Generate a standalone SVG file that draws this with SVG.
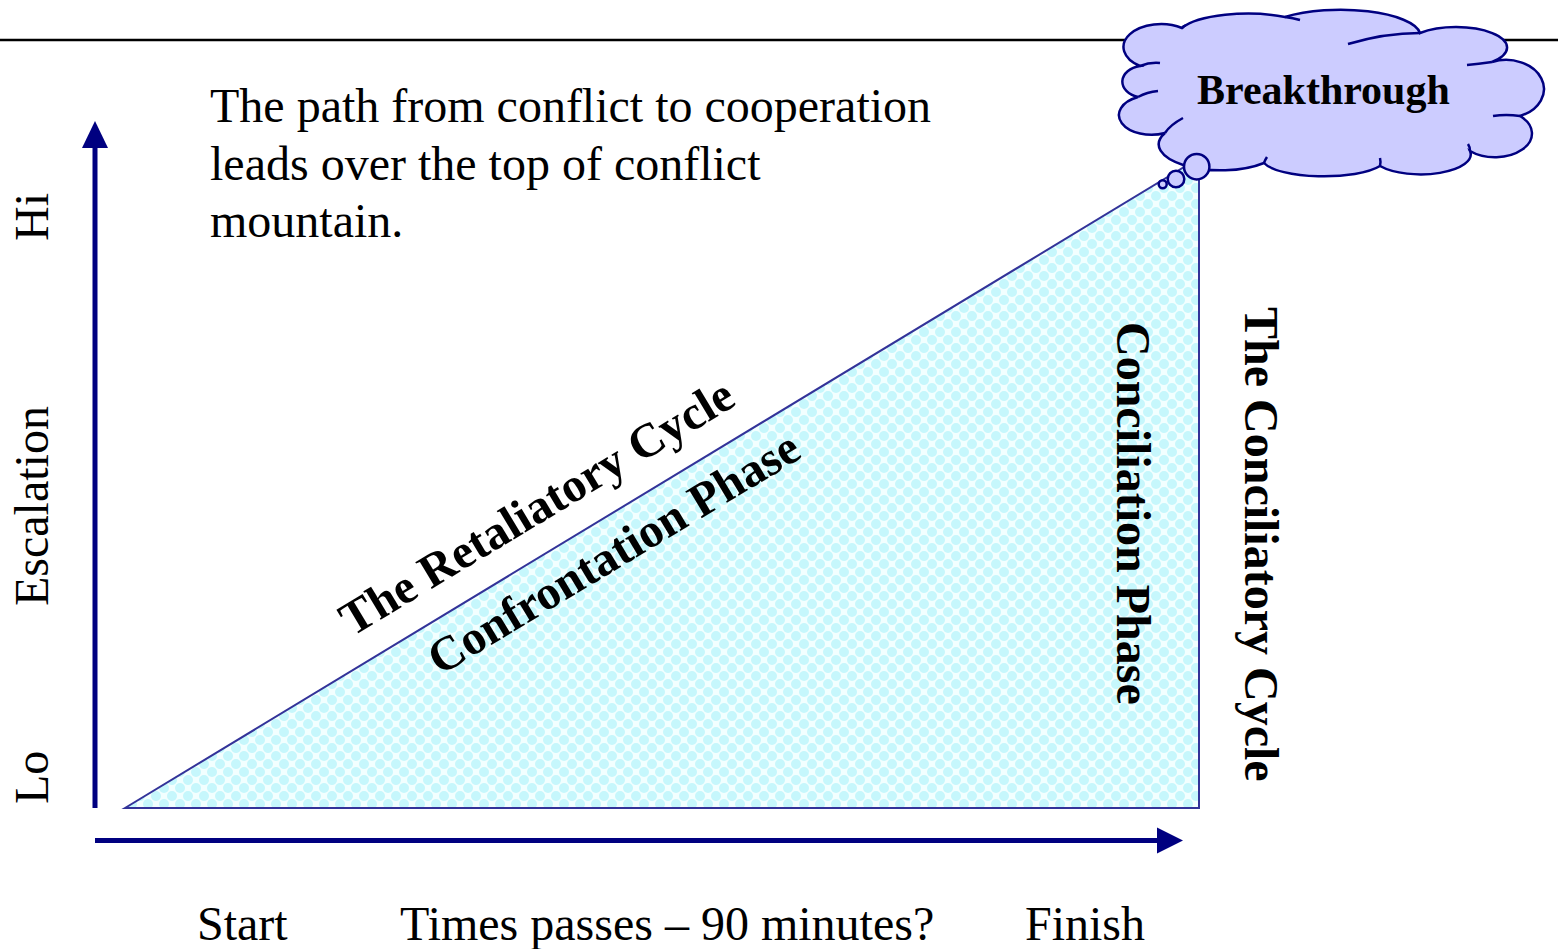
<svg xmlns="http://www.w3.org/2000/svg" width="1558" height="949" viewBox="0 0 1558 949">
<style>
.txt{font-family:"Liberation Serif","Times New Roman",serif;font-size:48px;fill:#000}
.bold{font-family:"Liberation Serif","Times New Roman",serif;font-size:48px;font-weight:bold;fill:#000}
.axis{stroke:#000080;stroke-width:5;fill:none}
.head{fill:#000080}
.cloud{fill:#ccccff;stroke:#000080;stroke-width:2.5}
.crease{fill:none;stroke:#000080;stroke-width:2.5}
</style>
<defs>
<pattern id="dots" patternUnits="userSpaceOnUse" width="16" height="16">
<rect width="16" height="16" fill="#f2ffff"/>
<circle cx="4" cy="4" r="5" fill="#c6f7fc"/>
<circle cx="12" cy="12" r="5" fill="#c6f7fc"/>
<circle cx="20" cy="4" r="5" fill="#c6f7fc"/>
<circle cx="4" cy="20" r="5" fill="#c6f7fc"/>
<circle cx="-4" cy="12" r="5" fill="#c6f7fc"/>
<circle cx="12" cy="-4" r="5" fill="#c6f7fc"/>
</pattern>
</defs>
<rect width="1558" height="949" fill="#ffffff"/>
<line x1="0" y1="40" x2="1558" y2="40" stroke="#000" stroke-width="2.5"/>

<g id="mountain">
<polygon points="125,808 1199,158 1199,808" fill="url(#dots)" stroke="#333399" stroke-width="2"/>
</g>

<g id="connectors">
<line class="axis" x1="95" y1="808" x2="95" y2="146"/>
<polygon class="head" points="95,121 82,148 108,148"/>
<line class="axis" x1="95" y1="840.5" x2="1160" y2="840.5"/>
<polygon class="head" points="1183,840.5 1157,827.5 1157,853.5"/>
</g>

<g id="intro">
<text class="txt" x="210" y="122">The path from conflict to cooperation</text>
<text class="txt" x="210" y="180">leads over the top of conflict</text>
<text class="txt" x="210" y="237">mountain.</text>
</g>

<g id="y-labels">
<text class="txt" transform="translate(48,241) rotate(-90)">Hi</text>
<text class="txt" transform="translate(48,606) rotate(-90)">Escalation</text>
<text class="txt" transform="translate(48,804) rotate(-90)">Lo</text>
</g>

<g id="x-labels">
<text class="txt" x="197" y="940">Start</text>
<text class="txt" x="400" y="940">Times passes – 90 minutes?</text>
<text class="txt" x="1025" y="940">Finish</text>
</g>

<g id="retaliatory">
<text class="bold" transform="translate(352,637) rotate(-31.1)">The Retaliatory Cycle</text>
</g>
<g id="confrontation">
<text class="bold" transform="translate(440,676) rotate(-31.1)">Confrontation Phase</text>
</g>
<g id="conciliation">
<text class="bold" transform="translate(1117,322) rotate(90)">Conciliation Phase</text>
</g>
<g id="conciliatory">
<text class="bold" transform="translate(1245,307) rotate(90)">The Conciliatory Cycle</text>
</g>

<g id="breakthrough">
<path class="cloud" d="M1165,133 A28,17 0 0 1 1138,97 A22,16 0 0 1 1140,66 A36,22 0 0 1 1182,28 A70,22 0 0 1 1285,17 A80,26 0 0 1 1420,33 A40,16 0 0 1 1492,62 A34,26 0 0 1 1520,116 A28,18 0 0 1 1470,151 A50,20 0 0 1 1380,166 A62,18 0 0 1 1264,163 A62,26 0 0 1 1165,133 Z"/>
<path class="crease" d="M1165,133 Q1170,125 1183,118"/>
<path class="crease" d="M1138,97 Q1147,92 1158,91"/>
<path class="crease" d="M1140,66 Q1150,62 1160,63"/>
<path class="crease" d="M1182,28 Q1184,25 1186,26"/>
<path class="crease" d="M1285,17 Q1293,18 1300,20"/>
<path class="crease" d="M1420,33 Q1385,33 1348,44"/>
<path class="crease" d="M1492,62 Q1478,64 1467,65"/>
<path class="crease" d="M1520,116 Q1506,114 1493,116"/>
<path class="crease" d="M1470,151 Q1470,147 1468,144"/>
<path class="crease" d="M1380,166 Q1381,162 1380,158"/>
<path class="crease" d="M1264,163 Q1265,160 1267,157"/>
<circle class="cloud" cx="1196.7" cy="166.7" r="12.7"/>
<circle class="cloud" cx="1176" cy="179" r="8.3"/>
<circle class="cloud" cx="1162.7" cy="184.3" r="4"/>
<text x="1197" y="104" style="font-family:'Liberation Serif','Times New Roman',serif;font-size:42px;font-weight:bold;fill:#000">Breakthrough</text>
</g>
</svg>
